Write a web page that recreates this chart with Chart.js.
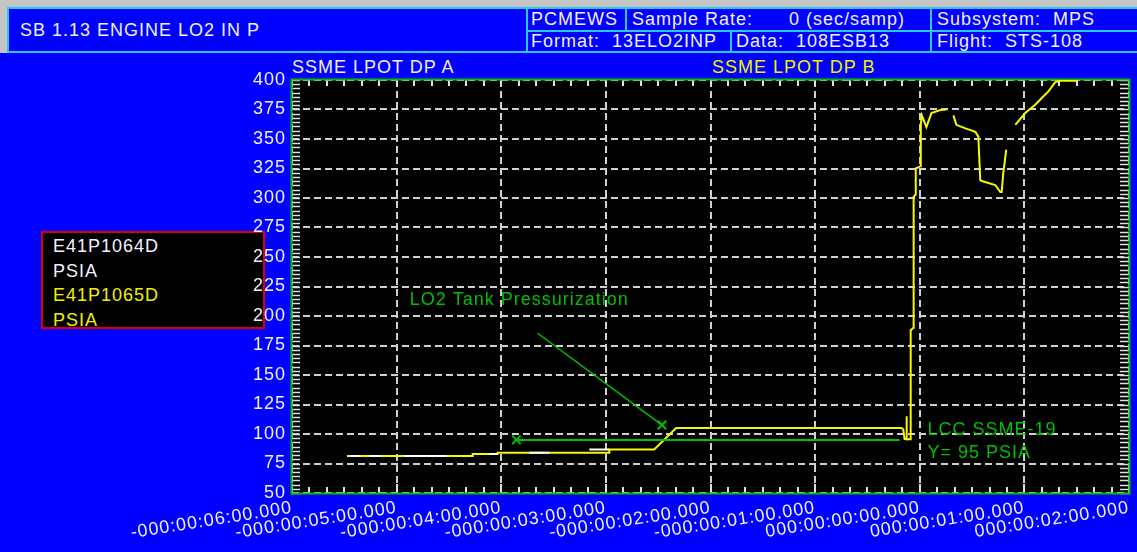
<!DOCTYPE html>
<html>
<head>
<meta charset="utf-8">
<title>SB 1.13 ENGINE LO2 IN P</title>
<script src="https://cdn.jsdelivr.net/npm/chart.js@4.4.1/dist/chart.umd.min.js"></script>
<style>
  html, body { margin: 0; padding: 0; }
  body {
    width: 1137px; height: 552px; overflow: hidden; position: relative;
    background: #0000ff;
    font: 18px "Liberation Sans", Arial, sans-serif; letter-spacing: 1px;
    color: #f0f0ff;
  }
  .abs { position: absolute; white-space: pre; }
  .frame-top { left: 0; top: 0; width: 1137px; height: 7px; background: #c4c4c4; }
  .frame-left { left: 0; top: 0; width: 7px; height: 53px; background: #c4c4c4; }
  .cell { position: absolute; border: 2px solid #28c8f0; box-sizing: border-box; }
  .txt { position: absolute; line-height: 20px; white-space: pre; }
  #legendBox {
    position: absolute; left: 41px; top: 231px; width: 224px; height: 98px;
    box-sizing: border-box; border: 2px solid #e00000; background: #000;
    padding: 1px 0 0 10px; line-height: 24.5px; z-index: 0;
  }
  #chart { position: absolute; left: 0; top: 0; z-index: 1; }
  .yellow { color: #f0f000; }
</style>
</head>
<body>
<div class="abs frame-top"></div>
<div class="abs frame-left"></div>

<!-- header block -->
<div class="cell" style="left:7px; top:7px; width:521px; height:46px;"></div>
<div class="cell" style="left:526px; top:7px; width:101px; height:25px;"></div>
<div class="cell" style="left:625px; top:7px; width:307px; height:25px;"></div>
<div class="cell" style="left:930px; top:7px; width:210px; height:25px;"></div>
<div class="cell" style="left:526px; top:30px; width:206px; height:23px;"></div>
<div class="cell" style="left:730px; top:30px; width:202px; height:23px;"></div>
<div class="cell" style="left:930px; top:30px; width:210px; height:23px;"></div>
<div class="txt" style="left:20px; top:20px;">SB 1.13 ENGINE LO2 IN P</div>
<div class="txt" style="left:531px; top:9px;">PCMEWS</div>
<div class="txt" style="left:632px; top:9px;">Sample Rate:      0 (sec/samp)</div>
<div class="txt" style="left:937px; top:9px;">Subsystem:  MPS</div>
<div class="txt" style="left:531px; top:31px;">Format:  13ELO2INP</div>
<div class="txt" style="left:736px; top:31px;">Data:  108ESB13</div>
<div class="txt" style="left:937px; top:31px;">Flight:  STS-108</div>

<div class="txt" style="left:292px; top:57px;">SSME LPOT DP A</div>
<div class="txt yellow" style="left:712px; top:57px;">SSME LPOT DP B</div>

<div id="legendBox">
  <div>E41P1064D</div>
  <div>PSIA</div>
  <div class="yellow">E41P1065D</div>
  <div class="yellow">PSIA</div>
</div>

<canvas id="chart" width="1137" height="552"></canvas>

<script>
// time axis in seconds relative to T-0, with the clock-style labels
const xTickSeconds = [-360, -300, -240, -180, -120, -60, 0, 60, 120];
const xTickLabels = [
    '-000:00:06:00.000', '-000:00:05:00.000', '-000:00:04:00.000',
    '-000:00:03:00.000', '-000:00:02:00.000', '-000:00:01:00.000',
    '000:00:00:00.000', '000:00:01:00.000', '000:00:02:00.000'
];
const yTickValues = [50, 75, 100, 125, 150, 175, 200, 225, 250, 275, 300, 325, 350, 375, 400];

// E41P1064D (DP A) - only the samples that show up over DP B
const timeA = [-326.8, -321.1, -320, -315.4, -309.7, -309, -295.4, -271.3, -270,
    -246.7, -242.2, -241, -223.8, -212.4, -211, -189.5, -178.1];
const pressA = [81.3, 81.3, null, 81.3, 81.3, null, 81.3, 81.3, null,
    83.0, 83.0, null, 84.2, 84.2, null, 86.9, 86.9];

// E41P1065D (DP B), null = dropout
const timeB = [-328.5, -256.5, -256.4, -242.2, -242.1, -178.1, -178.0, -152.3, -139.7,
    -10.5, -9.5, -8.7, -7.8, -7.6, -7.4, -5.3, -5.2, -3.6, -3.5, -2.4, -2.3,
    0.5, 0.6, 1.2, 3.8, 6.7, 11.9, 15.3, 17,
    19.3, 21.0, 26.2, 31.9, 33.6, 34.7, 36.5, 43.3, 46.2, 47.0, 47.9, 49.6, 52,
    54.8, 60.5, 66.2, 70.8, 73.6, 77.6, 80, 90.8];
const pressB = [81.3, 81.3, 83.0, 83.0, 84.2, 84.2, 86.9, 86.9, 105.1,
    105.1, 104, 95.7, 95.7, 115, 95.5, 95.5, 188, 190, 301, 303, 325,
    327, 362, 370, 360, 372, 374.6, 375, null,
    370, 362, 359, 356, 352, 315, 314, 311, 305, 305, 321, 341, null,
    362, 372, 379, 386, 390, 398, 399.3, 399.3];

// LCC SSME-19 limit line and the tank pressurization pointer
const lccLimit = 95;
const lccTime = [-231.3, -11.5];
const pressTime = [-219.3, -147.8];
const pressLevel = [185.6, 107.6];

const notes = [
    { text: 'LO2 Tank Pressurization', t: -292.5, v: 213.5 },
    { text: 'LCC SSME-19', t: 4.4, v: 103.4 },
    { text: 'Y= ' + lccLimit + ' PSIA', t: 4.4, v: 84.2 }
];

const GREEN = '#00c000';
const YELLOW = '#f8f800';
const LABEL = '#f0f0ff';
const FONT = { family: '"Liberation Sans", Arial, sans-serif', size: 18 };

const toPoints = (xs, ys) => xs.map((x, i) => ({ x: x, y: ys[i] }));

// canvas text gets the same spacing as the html text
const spacing = {
    id: 'spacing',
    beforeUpdate(chart) { chart.ctx.letterSpacing = '1px'; },
    beforeDraw(chart) { chart.ctx.letterSpacing = '1px'; }
};

// black plot area
const plotBg = {
    id: 'plotBg',
    beforeDraw(chart) {
        const { ctx, chartArea: a } = chart;
        ctx.save();
        ctx.fillStyle = '#000';
        ctx.fillRect(a.left, a.top, a.right - a.left, a.bottom - a.top);
        ctx.restore();
    }
};

// minor tick marks on all four sides, then the green frame under the traces
const tickMarks = {
    id: 'tickMarks',
    beforeDatasetsDraw(chart) {
        const { ctx, chartArea: a, scales: { x, y } } = chart;
        ctx.save();
        ctx.strokeStyle = '#e0e0e0';
        ctx.lineWidth = 2;
        ctx.beginPath();
        for (let t = x.min; t <= x.max; t += 10) {
            const px = Math.round(x.getPixelForValue(t));
            const len = t % 60 === 0 ? 9 : 6;
            ctx.moveTo(px, a.bottom);
            ctx.lineTo(px, a.bottom - len);
            ctx.moveTo(px, a.top);
            ctx.lineTo(px, a.top + 6);
        }
        ctx.stroke();
        ctx.lineWidth = 1.5;
        ctx.beginPath();
        for (let i = 0; i <= 98; i++) {
            const py = Math.round(y.getPixelForValue(y.min + i * 25 / 7)) + 0.5;
            ctx.moveTo(a.left, py);
            ctx.lineTo(a.left + 8, py);
            ctx.moveTo(a.right - 9, py);
            ctx.lineTo(a.right, py);
        }
        ctx.stroke();

        ctx.strokeStyle = GREEN;
        ctx.lineWidth = 2;
        ctx.strokeRect(a.left - 0.5, a.top - 0.5, a.right - a.left + 1, a.bottom - a.top + 1);
        ctx.restore();
    }
};

// green annotation text
const noteText = {
    id: 'noteText',
    afterDatasetsDraw(chart) {
        const { ctx, scales: { x, y } } = chart;
        ctx.save();
        ctx.font = FONT.size + 'px ' + FONT.family;
        ctx.fillStyle = GREEN;
        ctx.textAlign = 'left';
        ctx.textBaseline = 'middle';
        notes.forEach(n => ctx.fillText(n.text, x.getPixelForValue(n.t), y.getPixelForValue(n.v)));
        ctx.restore();
    }
};

const chart = new Chart(document.getElementById('chart'), {
    type: 'line',
    data: {
        datasets: [{
            label: 'E41P1064D',
            data: toPoints(timeA, pressA),
            borderColor: '#ffffff',
            borderWidth: 2,
            pointRadius: 0
        }, {
            label: 'E41P1065D',
            data: toPoints(timeB, pressB),
            borderColor: YELLOW,
            borderWidth: 2,
            pointRadius: 0
        }, {
            label: 'LCC SSME-19',
            data: toPoints(lccTime, [lccLimit, lccLimit]),
            borderColor: GREEN,
            borderWidth: 2,
            pointStyle: 'crossRot',
            pointRadius: [6, 0],
            pointBorderColor: GREEN,
            pointBorderWidth: 2,
            order: -1
        }, {
            label: 'LO2 Tank Pressurization',
            data: toPoints(pressTime, pressLevel),
            borderColor: GREEN,
            borderWidth: 1.5,
            pointStyle: 'crossRot',
            pointRadius: [0, 6],
            pointBorderColor: GREEN,
            pointBorderWidth: 2,
            order: -1
        }]
    },
    options: {
        responsive: false,
        animation: false,
        devicePixelRatio: 1,
        spanGaps: false,
        elements: { line: { tension: 0 } },
        layout: { padding: { top: 80, right: 6, left: 0, bottom: 0 } },
        plugins: {
            legend: { display: false },
            tooltip: { enabled: false }
        },
        scales: {
            x: {
                type: 'linear',
                min: xTickSeconds[0],
                max: xTickSeconds[xTickSeconds.length - 1],
                afterFit(scale) { scale.height = 59; },
                grid: { color: '#d0d0d0', lineWidth: 2, drawTicks: false },
                border: { display: false, dash: [7, 4] },
                ticks: {
                    stepSize: 60,
                    autoSkip: false,
                    maxRotation: 9,
                    minRotation: 9,
                    padding: 4,
                    color: LABEL,
                    font: FONT,
                    callback: v => xTickLabels[xTickSeconds.indexOf(v)] ?? ''
                }
            },
            y: {
                min: yTickValues[0],
                max: yTickValues[yTickValues.length - 1],
                afterFit(scale) { scale.width = 292; },
                grid: { color: '#d0d0d0', lineWidth: 2, drawTicks: false },
                border: { display: false, dash: [7, 4] },
                ticks: {
                    stepSize: 25,
                    padding: 6,
                    color: LABEL,
                    font: FONT,
                    callback: v => yTickValues.includes(v) ? String(v) : ''
                }
            }
        }
    },
    plugins: [spacing, plotBg, tickMarks, noteText]
});
</script>
</body>
</html>
